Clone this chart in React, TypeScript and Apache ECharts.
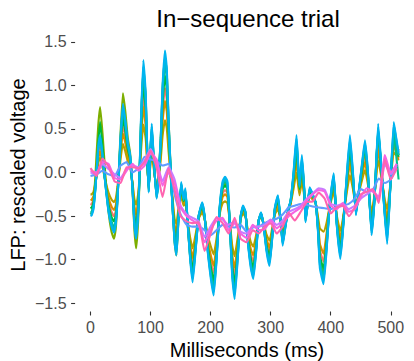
import React, { useEffect, useRef } from "react";
import * as echarts from "echarts";

// Time points (ms) for the oscillating channels
const MS = [0,2,5,8,10,13,16,20,25,30,
35,39,42,45,50,54,58,62,66,70,
73,76,80,84,88,92,95,97,100,102,
105,110,113,117,120,124,127,130,135,140,
143,146,151,155,158,162,166,170,175,180,
186,190,195,200,205,210,215,220,224,228,
232,236,240,245,250,254,258,262,267,271,
276,280,284,288,293,298,302,307,312,316,
320,325,330,333,338,343,348,352,356,358,
361,365,370,375,379,382,388,393,398,405,
410,416,420,425,432,437,442,447,452,457,
462,468,473,479,485,490,494,499,505,509,
513];

// Time points (ms) for the slower channels
const MS_SMOOTH = [0,10,20,30,40,50,60,70,80,90,100,110,120,130,140,150,160,170,180,190,200,210,220,230,240,250,260,270,280,290,300,310,320,330,340,350,360,370,380,390,400,410,420,430,440,450,460,470,480,490,500,510];

const SALMON = [-0.37,-0.36,-0.31,-0.16,-0.02,0.20,0.29,0.13,-0.12,-0.33,
-0.45,-0.50,-0.44,-0.23,0.27,0.54,0.41,0.23,0.13,-0.16,
-0.44,-0.55,-0.30,0.41,0.89,0.62,0.06,-0.18,0.20,0.38,
0.13,-0.23,-0.09,0.27,0.69,0.97,0.83,0.41,-0.19,-0.65,
-0.76,-0.51,-0.20,-0.35,-0.28,-0.59,-0.87,-1.05,-0.80,-0.52,
-0.40,-0.52,-0.80,-1.01,-1.15,-0.87,-0.45,-0.24,-0.20,-0.24,
-0.59,-1.01,-1.18,-0.87,-0.52,-0.43,-0.48,-0.73,-0.94,-1.02,
-0.80,-0.55,-0.49,-0.59,-0.80,-0.91,-0.73,-0.45,-0.35,-0.52,
-0.75,-0.57,-0.42,-0.35,-0.11,0.20,-0.21,0.04,-0.25,-0.50,
-0.39,-0.22,-0.28,-0.35,-0.60,-0.89,-1.02,-0.75,-0.40,-0.13,
-0.54,-0.81,-0.61,-0.26,0.18,-0.11,-0.43,-0.22,-0.01,0.18,
-0.08,-0.58,-0.27,0.33,-0.05,-0.40,-0.60,-0.17,0.39,0.27,
0.16];

const ORANGE = [-0.32,-0.31,-0.27,-0.14,-0.02,0.16,0.24,0.10,-0.11,-0.29,
-0.39,-0.43,-0.38,-0.20,0.22,0.45,0.34,0.19,0.10,-0.14,
-0.38,-0.48,-0.26,0.34,0.75,0.52,0.04,-0.16,0.16,0.32,
0.10,-0.20,-0.08,0.22,0.58,0.82,0.70,0.34,-0.18,-0.60,
-0.69,-0.48,-0.23,-0.36,-0.31,-0.58,-0.82,-0.98,-0.76,-0.52,
-0.42,-0.52,-0.76,-0.94,-1.07,-0.82,-0.46,-0.28,-0.25,-0.28,
-0.58,-0.94,-1.09,-0.82,-0.52,-0.45,-0.49,-0.70,-0.88,-0.95,
-0.76,-0.55,-0.50,-0.58,-0.76,-0.86,-0.70,-0.46,-0.38,-0.52,
-0.72,-0.56,-0.42,-0.36,-0.14,0.12,-0.23,-0.02,-0.26,-0.48,
-0.38,-0.24,-0.29,-0.35,-0.57,-0.82,-0.93,-0.70,-0.40,-0.17,
-0.52,-0.75,-0.58,-0.28,0.10,-0.14,-0.41,-0.22,-0.04,0.12,
-0.10,-0.53,-0.26,0.26,-0.06,-0.36,-0.53,-0.16,0.33,0.22,
0.14];

const GOLD = [-0.25,-0.25,-0.22,-0.12,-0.03,0.11,0.17,0.06,-0.10,-0.23,
-0.31,-0.34,-0.30,-0.16,0.15,0.33,0.24,0.13,0.06,-0.12,
-0.30,-0.37,-0.21,0.24,0.55,0.38,0.02,-0.13,0.11,0.22,
0.06,-0.16,-0.07,0.15,0.42,0.60,0.51,0.24,-0.17,-0.53,
-0.59,-0.44,-0.27,-0.38,-0.36,-0.57,-0.75,-0.87,-0.71,-0.53,
-0.46,-0.53,-0.71,-0.84,-0.94,-0.75,-0.48,-0.35,-0.33,-0.35,
-0.57,-0.84,-0.96,-0.75,-0.53,-0.47,-0.51,-0.66,-0.80,-0.85,
-0.71,-0.55,-0.51,-0.57,-0.71,-0.78,-0.66,-0.48,-0.42,-0.53,
-0.68,-0.55,-0.43,-0.37,-0.19,0.00,-0.26,-0.10,-0.28,-0.45,
-0.37,-0.27,-0.31,-0.35,-0.52,-0.64,-0.68,-0.58,-0.40,-0.22,
-0.49,-0.67,-0.54,-0.31,-0.03,-0.19,-0.39,-0.23,-0.09,0.03,
-0.14,-0.46,-0.25,0.14,-0.08,-0.31,-0.42,-0.15,0.23,0.20,
0.27];

const YELLOWGREEN = [-0.48,-0.46,-0.35,-0.05,0.20,0.55,0.75,0.45,-0.05,-0.45,
-0.68,-0.76,-0.65,-0.30,0.45,0.91,0.70,0.40,0.22,-0.20,
-0.65,-0.87,-0.45,0.55,1.20,0.85,0.10,-0.20,0.28,0.50,
0.18,-0.28,-0.08,0.40,0.95,1.32,1.15,0.60,-0.18,-0.80,
-0.95,-0.60,-0.14,-0.32,-0.22,-0.62,-0.97,-1.16,-0.85,-0.50,
-0.37,-0.52,-0.85,-1.10,-1.28,-0.93,-0.42,-0.17,-0.12,-0.17,
-0.60,-1.10,-1.32,-0.93,-0.51,-0.40,-0.46,-0.76,-1.02,-1.12,
-0.85,-0.55,-0.47,-0.59,-0.85,-1.00,-0.77,-0.42,-0.30,-0.51,
-0.80,-0.58,-0.41,-0.34,-0.05,0.30,-0.18,0.12,-0.22,-0.54,
-0.39,-0.20,-0.26,-0.35,-0.66,-1.00,-1.15,-0.83,-0.40,-0.07,
-0.57,-0.90,-0.65,-0.23,0.30,-0.05,-0.46,-0.21,0.05,0.28,
-0.04,-0.65,-0.28,0.45,-0.02,-0.45,-0.72,-0.18,0.48,0.35,
0.20];

const GREEN = [-0.41,-0.40,-0.35,-0.17,-0.01,0.35,0.58,0.30,-0.13,-0.37,
-0.51,-0.56,-0.49,-0.25,0.31,0.62,0.47,0.27,0.15,-0.17,
-0.49,-0.62,-0.33,0.47,1.02,0.71,0.07,-0.19,0.23,0.44,
0.15,-0.25,-0.09,0.31,0.79,1.11,0.95,0.47,-0.19,-0.70,
-0.82,-0.54,-0.17,-0.33,-0.24,-0.59,-0.91,-1.12,-0.83,-0.51,
-0.38,-0.51,-0.83,-1.07,-1.24,-0.91,-0.43,-0.19,-0.15,-0.19,
-0.59,-1.07,-1.27,-0.91,-0.51,-0.41,-0.47,-0.75,-0.99,-1.09,
-0.83,-0.55,-0.48,-0.59,-0.83,-0.97,-0.75,-0.43,-0.32,-0.51,
-0.78,-0.58,-0.41,-0.34,-0.07,0.27,-0.19,0.09,-0.23,-0.53,
-0.39,-0.21,-0.27,-0.35,-0.64,-0.96,-1.10,-0.80,-0.40,-0.09,
-0.56,-0.87,-0.64,-0.24,0.26,-0.07,-0.45,-0.21,0.03,0.30,
-0.05,-0.63,-0.28,0.50,-0.03,-0.43,-0.68,-0.18,0.45,0.31,
0.18];

const TEALGREEN = [-0.46,-0.45,-0.38,-0.19,-0.01,0.27,0.38,0.18,-0.14,-0.41,
-0.56,-0.63,-0.55,-0.28,0.36,0.71,0.54,0.31,0.18,-0.19,
-0.55,-0.69,-0.37,0.54,1.16,0.81,0.09,-0.21,0.27,0.50,
0.18,-0.28,-0.10,0.36,0.90,1.26,1.08,0.54,-0.20,-0.75,
-0.89,-0.57,-0.14,-0.32,-0.21,-0.60,-0.96,-1.19,-0.87,-0.51,
-0.36,-0.51,-0.87,-1.14,-1.32,-0.96,-0.42,-0.15,-0.10,-0.15,
-0.60,-1.14,-1.36,-0.96,-0.51,-0.40,-0.46,-0.78,-1.05,-1.15,
-0.87,-0.55,-0.47,-0.60,-0.87,-1.02,-0.78,-0.42,-0.29,-0.51,
-0.81,-0.59,-0.41,-0.34,-0.04,0.35,-0.17,0.15,-0.22,-0.55,
-0.40,-0.19,-0.26,-0.35,-0.67,-1.03,-1.19,-0.85,-0.40,-0.05,
-0.58,-0.93,-0.67,-0.22,0.35,-0.04,-0.47,-0.21,0.07,0.31,
-0.03,-0.67,-0.29,0.48,-0.02,-0.47,-0.75,-0.19,0.45,0.20,
-0.08];

const TEAL = [-0.48,-0.47,-0.40,-0.19,0.00,0.28,0.41,0.19,-0.15,-0.43,
-0.59,-0.66,-0.57,-0.29,0.38,0.75,0.57,0.33,0.19,-0.19,
-0.57,-0.72,-0.38,0.57,1.22,0.85,0.09,-0.22,0.28,0.53,
0.19,-0.29,-0.10,0.38,0.95,1.33,1.14,0.57,-0.20,-0.78,
-0.92,-0.59,-0.12,-0.31,-0.20,-0.60,-0.98,-1.22,-0.88,-0.50,
-0.35,-0.50,-0.88,-1.17,-1.37,-0.98,-0.41,-0.12,-0.08,-0.12,
-0.60,-1.17,-1.40,-0.98,-0.50,-0.39,-0.45,-0.79,-1.07,-1.19,
-0.88,-0.55,-0.46,-0.60,-0.88,-1.04,-0.79,-0.41,-0.27,-0.50,
-0.82,-0.60,-0.40,-0.33,-0.02,0.39,-0.16,0.17,-0.21,-0.56,
-0.40,-0.18,-0.25,-0.35,-0.68,-1.06,-1.23,-0.88,-0.40,-0.03,
-0.59,-0.96,-0.68,-0.21,0.39,-0.02,-0.48,-0.20,0.08,0.34,
-0.01,-0.70,-0.30,0.52,-0.01,-0.48,-0.78,-0.20,0.55,0.38,
0.20];

const CYAN = [-0.50,-0.49,-0.42,-0.20,0.00,0.30,0.43,0.20,-0.15,-0.45,
-0.62,-0.69,-0.60,-0.30,0.40,0.79,0.60,0.35,0.20,-0.20,
-0.60,-0.76,-0.40,0.60,1.29,0.90,0.10,-0.23,0.30,0.56,
0.20,-0.30,-0.10,0.40,1.00,1.40,1.20,0.60,-0.20,-0.80,
-0.95,-0.60,-0.11,-0.30,-0.18,-0.60,-1.00,-1.26,-0.90,-0.50,
-0.34,-0.50,-0.90,-1.20,-1.41,-1.00,-0.40,-0.10,-0.05,-0.10,
-0.60,-1.20,-1.45,-1.00,-0.50,-0.38,-0.45,-0.80,-1.10,-1.22,
-0.90,-0.55,-0.46,-0.60,-0.90,-1.07,-0.80,-0.40,-0.26,-0.50,
-0.84,-0.60,-0.40,-0.33,0.00,0.43,-0.15,0.20,-0.20,-0.57,
-0.40,-0.17,-0.25,-0.35,-0.70,-1.10,-1.28,-0.90,-0.40,-0.01,
-0.60,-0.99,-0.70,-0.20,0.43,0.00,-0.49,-0.20,0.10,0.37,
0.00,-0.72,-0.30,0.56,0.00,-0.50,-0.82,-0.20,0.58,0.40,
0.23];

const BLUE = [-0.04,-0.02,0.02,-0.02,-0.04,0.08,0.12,0.00,0.05,0.18,
0.15,0.13,0.08,0.10,-0.25,-0.48,-0.60,-0.62,-0.62,-0.66,
-0.72,-0.66,-0.60,-0.62,-0.63,-0.60,-0.68,-0.63,-0.62,-0.58,
-0.55,-0.53,-0.48,-0.40,-0.38,-0.36,-0.37,-0.39,-0.40,-0.41,
-0.42,-0.40,-0.38,-0.36,-0.30,-0.19,-0.22,-0.20,-0.07,-0.12,
-0.08,0.10];

const PURPLE = [0.00,-0.02,0.10,0.04,-0.02,-0.06,0.04,0.08,0.06,0.14,
0.27,0.12,-0.10,0.06,-0.08,-0.38,-0.48,-0.52,-0.56,-0.74,
-0.62,-0.52,-0.54,-0.60,-0.56,-0.68,-0.70,-0.62,-0.62,-0.60,
-0.54,-0.60,-0.55,-0.45,-0.42,-0.38,-0.30,-0.24,-0.18,-0.20,
-0.36,-0.38,-0.36,-0.42,-0.38,-0.30,-0.25,-0.20,-0.30,0.10,
-0.02,0.08];

const PINK = [0.02,0.00,0.12,0.10,-0.06,-0.08,0.02,0.10,0.02,0.08,
0.22,0.15,-0.15,0.00,-0.12,-0.40,-0.50,-0.55,-0.60,-0.80,
-0.66,-0.55,-0.52,-0.66,-0.58,-0.70,-0.75,-0.60,-0.66,-0.65,
-0.55,-0.64,-0.58,-0.50,-0.45,-0.40,-0.32,-0.25,-0.20,-0.22,
-0.38,-0.42,-0.35,-0.45,-0.42,-0.28,-0.18,-0.22,-0.28,0.20,
0.00,0.10];

const HOTPINK = [0.05,-0.04,0.16,0.07,-0.10,-0.12,0.06,0.06,0.05,0.12,
0.25,0.06,-0.28,0.05,-0.20,-0.50,-0.56,-0.58,-0.57,-0.90,
-0.70,-0.51,-0.58,-0.70,-0.52,-0.76,-0.80,-0.66,-0.70,-0.62,
-0.58,-0.70,-0.62,-0.46,-0.55,-0.45,-0.34,-0.33,-0.23,-0.30,
-0.47,-0.40,-0.38,-0.50,-0.40,-0.25,-0.22,-0.19,-0.35,0.15,
-0.08,0.05];

const X_TICKS = [0, 100, 200, 300, 400, 500];
const Y_TICKS = [-1.5, -1.0, -0.5, 0.0, 0.5, 1.0, 1.5];

const CHANNELS = [
  { name: "ch1", color: "#F8766D", x: MS, y: SALMON },
  { name: "ch2", color: "#DE8C00", x: MS, y: ORANGE },
  { name: "ch3", color: "#B79F00", x: MS, y: GOLD },
  { name: "ch4", color: "#7CAE00", x: MS, y: YELLOWGREEN },
  { name: "ch5", color: "#00BA38", x: MS, y: GREEN },
  { name: "ch6", color: "#00C08B", x: MS, y: TEALGREEN },
  { name: "ch7", color: "#00BFC4", x: MS, y: TEAL },
  { name: "ch8", color: "#00B4F0", x: MS, y: CYAN },
  { name: "ch9", color: "#619CFF", x: MS_SMOOTH, y: BLUE },
  { name: "ch10", color: "#C77CFF", x: MS_SMOOTH, y: PURPLE },
  { name: "ch11", color: "#F564E3", x: MS_SMOOTH, y: PINK },
  { name: "ch12", color: "#FF64B0", x: MS_SMOOTH, y: HOTPINK },
];

const FONT = '"Liberation Sans", Arial, Helvetica, sans-serif';

export default function App() {
  const ref = useRef<HTMLDivElement>(null);
  useEffect(() => {
    document.body.style.margin = "0";
    if (!ref.current) return;
    const chart = echarts.init(ref.current, undefined, { renderer: "svg" });
    const left = 75.1;
    const top = 38.3;
    const width = 345.4;
    const height = 273.2;
    chart.setOption({
      animation: false,
      backgroundColor: "#ffffff",
      grid: { left, top, width, height, containLabel: false },
      xAxis: {
        type: "value",
        min: -25.65,
        max: 538.65,
        axisLine: { show: false, onZero: false },
        splitLine: { show: false },
        axisTick: {
          show: true,
          length: 4,
          customValues: X_TICKS,
          lineStyle: { color: "#333333", width: 1.1 },
        },
        axisLabel: {
          customValues: X_TICKS,
          color: "#4D4D4D",
          fontSize: 16,
          fontFamily: FONT,
          margin: 8,
          formatter: (v: number) => String(v),
        },
      },
      yAxis: {
        type: "value",
        min: -1.594,
        max: 1.54,
        axisLine: { show: false, onZero: false },
        splitLine: { show: false },
        axisTick: {
          show: true,
          length: 4,
          customValues: Y_TICKS,
          lineStyle: { color: "#333333", width: 1.1 },
        },
        axisLabel: {
          customValues: Y_TICKS,
          color: "#4D4D4D",
          fontSize: 16,
          fontFamily: FONT,
          margin: 8.5,
          formatter: (v: number) => v.toFixed(1).replace("-", "\u2212"),
        },
      },
      graphic: [
        {
          type: "text",
          x: 248,
          y: 18.5,
          style: {
            text: "In\u2212sequence trial",
            fontSize: 24,
            fontFamily: FONT,
            fill: "#000000",
            align: "center",
            verticalAlign: "middle",
          },
        },
        {
          type: "text",
          x: 247,
          y: 349.5,
          style: {
            text: "Milliseconds (ms)",
            fontSize: 20,
            fontFamily: FONT,
            fill: "#000000",
            align: "center",
            verticalAlign: "middle",
          },
        },
        {
          type: "text",
          x: 18,
          y: 175,
          rotation: Math.PI / 2,
          style: {
            text: "LFP: rescaled voltage",
            fontSize: 20,
            fontFamily: FONT,
            fill: "#000000",
            align: "center",
            verticalAlign: "middle",
          },
        },
      ],
      series: CHANNELS.map((c) => ({
        name: c.name,
        type: "line",
        data: c.x.map((t, i) => [t, c.y[i]]),
        showSymbol: false,
        symbol: "none",
        smooth: 0.15,
        lineStyle: { color: c.color, width: 2.1 },
        itemStyle: { color: c.color },
        emphasis: { disabled: true },
      })),
    });
    return () => chart.dispose();
  }, []);
  return <div ref={ref} style={{ width: 414, height: 361 }} />;
}
